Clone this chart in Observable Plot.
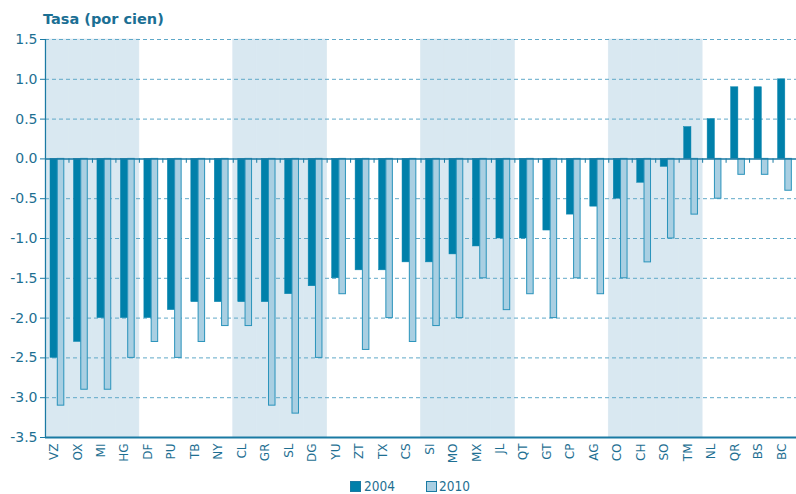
<!DOCTYPE html>
<html>
<head>
<meta charset="utf-8">
<script src="https://cdn.jsdelivr.net/npm/d3@7"></script>
<script src="https://cdn.jsdelivr.net/npm/@observablehq/plot@0.6"></script>
<style>
  html, body { margin: 0; padding: 0; background: #fff; overflow: hidden; }
  #wrap { position: relative; width: 796px; height: 494px; font-family: "DejaVu Sans", sans-serif; }
  #title { position: absolute; left: 43px; top: 10px; font-size: 14.5px; font-weight: bold; color: #1b6f94; z-index: 2; line-height: 18px; }
  .sw { position: absolute; top: 481px; width: 9px; height: 9px; border: 1px solid #1a7aa3; }
  .lt { position: absolute; top: 478px; font-family: "DejaVu Sans Condensed", "DejaVu Sans", sans-serif; font-size: 13.5px; line-height: 16px; color: #1e6f92; }
</style>
</head>
<body>
<div id="wrap">
  <div id="title">Tasa (por cien)</div>
  <div id="chart"></div>
  <span class="sw" style="left:350px;background:#0080aa"></span><span class="lt" style="left:364px">2004</span>
  <span class="sw" style="left:426px;background:#a9cfe2"></span><span class="lt" style="left:439px">2010</span>
</div>
<script>
const categories = ["VZ","OX","MI","HG","DF","PU","TB","NY","CL","GR","SL","DG","YU","ZT","TX","CS","SI","MO","MX","JL","QT","GT","CP","AG","CO","CH","SO","TM","NL","QR","BS","BC"];
const values2004 = [-2.5,-2.3,-2.0,-2.0,-2.0,-1.9,-1.8,-1.8,-1.8,-1.8,-1.7,-1.6,-1.5,-1.4,-1.4,-1.3,-1.3,-1.2,-1.1,-1.0,-1.0,-0.9,-0.7,-0.6,-0.5,-0.3,-0.1,0.4,0.5,0.9,0.9,1.0];
const values2010 = [-3.1,-2.9,-2.9,-2.5,-2.3,-2.5,-2.3,-2.1,-2.1,-3.1,-3.2,-2.5,-1.7,-2.4,-2.0,-2.3,-2.1,-2.0,-1.5,-1.9,-1.7,-2.0,-1.5,-1.7,-1.5,-1.3,-1.0,-0.7,-0.5,-0.2,-0.2,-0.4];
const yTicks = [-3.5,-3.0,-2.5,-2.0,-1.5,-1.0,-0.5,0.0,0.5,1.0,1.5];

const data = categories.map((c, i) => ({cat: c, v2004: values2004[i], v2010: values2010[i]}));
const shaded = categories.filter((c, i) => Math.floor(i / 4) % 2 === 0);

const W = 796, ML = 45, MR = 0;
const step = (W - ML - MR) / categories.length;
const dark = "#1a7aa3";
const grid = "#5fa8c8";

const chart = Plot.plot({
  width: W, height: 470,
  marginLeft: ML, marginRight: MR, marginTop: 39, marginBottom: 33,
  style: {fontFamily: "DejaVu Sans, sans-serif", background: "transparent"},
  x: {domain: categories, padding: 0, round: false, axis: null, label: null},
  y: {domain: [-3.5, 1.5], axis: null, label: null},
  marks: [
    Plot.barY(shaded, {x: d => d, y1: -3.5, y2: 1.5, fill: "#d9e8f1", stroke: "#d9e8f1", strokeWidth: 0.6}),
    Plot.ruleY(yTicks.filter(t => t !== 0 && t !== -3.5), {y: d => d, stroke: grid, strokeDasharray: "4,3", strokeWidth: 1}),
    Plot.barY(data, {x: "cat", y: "v2004", fill: "#0080aa", stroke: "#0a86b0", strokeWidth: 0.5, insetLeft: 5, insetRight: step - 12.3}),
    Plot.barY(data, {x: "cat", y: "v2010", fill: "#a9cfe2", stroke: "#2a93bb", strokeWidth: 1, insetLeft: 12.3, insetRight: step - 18.8}),
    Plot.ruleY([0], {stroke: dark, strokeWidth: 1.5}),
    Plot.ruleY([-3.5], {stroke: dark, strokeWidth: 2}),
    Plot.ruleX(categories, {x: d => d, y1: 0, y2: -0.055, dx: step / 2, stroke: dark, strokeWidth: 1}),
    Plot.ruleX([categories[0]], {x: d => d, y1: -3.5, y2: 1.5, dx: -step / 2, stroke: dark, strokeWidth: 1.2}),
    Plot.axisY({ticks: yTicks, tickFormat: d => d.toFixed(1), tickSize: 5, tickPadding: 3, fontSize: 14, color: "#1e6f92", stroke: dark, label: null}),
    Plot.axisX({tickRotate: -90, tickSize: 0, tickPadding: 6, fontSize: 12, color: "#1e6f92", dx: -3, label: null})
  ]
});
document.getElementById("chart").appendChild(chart);
</script>
</body>
</html>
